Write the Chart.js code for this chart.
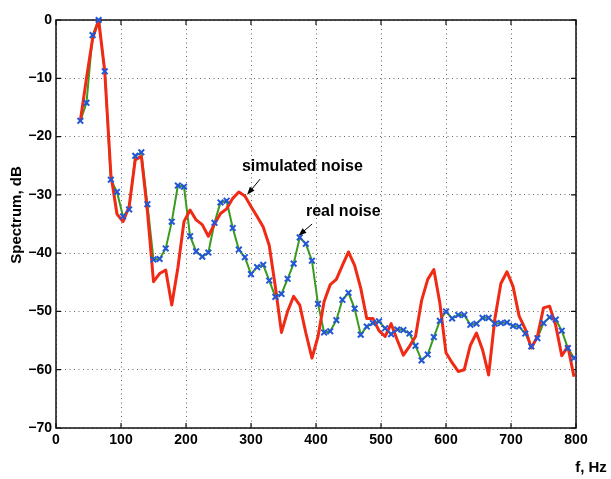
<!DOCTYPE html>
<html>
<head>
<meta charset="utf-8">
<title>Spectrum</title>
<script src="https://cdn.jsdelivr.net/npm/chart.js@4.4.0/dist/chart.umd.min.js"></script>
<style>
  html, body { margin: 0; padding: 0; background: #fff; }
  #wrap { width: 611px; height: 479px; }
</style>
</head>
<body>
<div id="wrap"><canvas id="spectrum" width="611" height="479"></canvas></div>
<script>
// frequency bins, Hz
const freq = [
  37.5, 46.9, 56.3, 65.6, 75.0, 84.4, 93.8, 103.1, 112.5, 121.9,
  131.3, 140.6, 150.0, 159.4, 168.8, 178.1, 187.5, 196.9, 206.3, 215.6,
  225.0, 234.4, 243.8, 253.1, 262.5, 271.9, 281.3, 290.6, 300.0, 309.4,
  318.8, 328.1, 337.5, 346.9, 356.3, 365.6, 375.0, 384.4, 393.8, 403.1,
  412.5, 421.9, 431.3, 440.6, 450.0, 459.4, 468.8, 478.1, 487.5, 496.9,
  506.3, 515.6, 525.0, 534.4, 543.8, 553.1, 562.5, 571.9, 581.3, 590.6,
  600.0, 609.4, 618.8, 628.1, 637.5, 646.9, 656.3, 665.6, 675.0, 684.4,
  693.8, 703.1, 712.5, 721.9, 731.3, 740.6, 750.0, 759.4, 768.8, 778.1,
  787.5, 796.9
];

// measured spectrum, dB
const realNoise = [
  -17.3, -14.2, -2.6, 0, -8.8, -27.4, -29.5, -33.7, -32.5, -23.3,
  -22.7, -31.6, -41.1, -41.0, -39.2, -34.6, -28.4, -28.6, -37.1, -39.7,
  -40.6, -39.9, -34.8, -31.3, -31.0, -35.7, -39.4, -40.7, -43.6, -42.4,
  -42.0, -44.7, -47.5, -47.0, -44.4, -41.8, -37.3, -38.4, -41.3, -48.7,
  -53.6, -53.4, -51.5, -48.0, -46.8, -49.5, -54.0, -52.6, -52.0, -51.7,
  -52.9, -53.9, -53.1, -53.2, -53.8, -55.9, -58.4, -57.4, -54.4, -51.6,
  -50.0, -51.2, -50.6, -50.6, -52.3, -52.1, -51.1, -51.1, -52.1, -52.0,
  -51.9, -52.5, -52.6, -53.8, -56.0, -54.6, -52.0, -51.0, -51.4, -53.3,
  -56.3, -58.0
];

// simulated spectrum, dB
const simNoise = [
  -17.3, -10.0, -3.2, 0, -8.8, -26.5, -33.3, -34.6, -32.0, -24.0,
  -23.4, -32.8, -44.9, -43.5, -42.9, -48.9, -42.5, -34.6, -32.6, -34.3,
  -35.1, -37.1, -35.0, -33.2, -32.4, -30.6, -29.5, -30.2, -32.0, -33.7,
  -35.5, -38.7, -45.8, -53.6, -50.0, -47.4, -48.9, -53.7, -58.0, -54.3,
  -48.3, -45.4, -44.5, -42.1, -39.8, -42.1, -46.0, -51.2, -51.2, -53.3,
  -54.3, -52.1, -54.9, -57.5, -56.0, -54.3, -48.1, -44.5, -42.8, -48.6,
  -57.1, -58.8, -60.3, -60.0, -55.8, -53.7, -56.6, -60.9, -51.4, -45.2,
  -43.2, -45.7, -50.8, -53.0, -56.3, -54.3, -49.4, -49.1, -52.4, -57.6,
  -56.0, -61.2
];

const xTicks = [0, 100, 200, 300, 400, 500, 600, 700, 800];
const yTicks = [0, -10, -20, -30, -40, -50, -60, -70];

// text labels with arrows, in data units
const notes = [
  { text: 'simulated noise', at: [379, -25.2], from: [314, -27.3], to: [294, -30.0] },
  { text: 'real noise', at: [442, -32.9], from: [394, -35.0], to: [373, -37.0] }
];

const FONT = "'Liberation Sans', Arial, Helvetica, sans-serif";

function pts(vals) {
  return freq.map((f, i) => ({ x: f, y: vals[i] }));
}

function fmt(v) {
  return v < 0 ? '\u2212' + Math.abs(v) : String(v);
}

// box round the plot and little inward ticks, like matlab
const frame = {
  id: 'frame',
  beforeDatasetsDraw(chart) {
    const { ctx, chartArea: a, scales: { x, y } } = chart;
    ctx.save();
    ctx.strokeStyle = '#111';
    ctx.lineWidth = 1.5;
    ctx.strokeRect(a.left, a.top, a.right - a.left, a.bottom - a.top);
    ctx.lineWidth = 1.2;
    ctx.beginPath();
    xTicks.forEach(v => {
      const px = x.getPixelForValue(v);
      ctx.moveTo(px, a.bottom); ctx.lineTo(px, a.bottom - 5);
      ctx.moveTo(px, a.top); ctx.lineTo(px, a.top + 5);
    });
    yTicks.forEach(v => {
      const py = y.getPixelForValue(v);
      ctx.moveTo(a.left, py); ctx.lineTo(a.left + 5, py);
      ctx.moveTo(a.right, py); ctx.lineTo(a.right - 5, py);
    });
    ctx.stroke();
    ctx.restore();
  },
  afterDraw(chart) {
    const { ctx, chartArea: a, scales: { x, y } } = chart;
    ctx.save();
    ctx.fillStyle = '#000';
    ctx.strokeStyle = '#000';

    // annotations
    ctx.font = 'bold 16px ' + FONT;
    ctx.textAlign = 'center';
    ctx.textBaseline = 'middle';
    notes.forEach(n => {
      ctx.fillText(n.text, x.getPixelForValue(n.at[0]), y.getPixelForValue(n.at[1]));
      const x1 = x.getPixelForValue(n.from[0]), y1 = y.getPixelForValue(n.from[1]);
      const x2 = x.getPixelForValue(n.to[0]), y2 = y.getPixelForValue(n.to[1]);
      const ang = Math.atan2(y2 - y1, x2 - x1);
      ctx.lineWidth = 1;
      ctx.beginPath();
      ctx.moveTo(x1, y1);
      ctx.lineTo(x2 - 6 * Math.cos(ang), y2 - 6 * Math.sin(ang));
      ctx.stroke();
      ctx.beginPath();
      ctx.moveTo(x2, y2);
      ctx.lineTo(x2 - 8 * Math.cos(ang) + 3 * Math.sin(ang), y2 - 8 * Math.sin(ang) - 3 * Math.cos(ang));
      ctx.lineTo(x2 - 8 * Math.cos(ang) - 3 * Math.sin(ang), y2 - 8 * Math.sin(ang) + 3 * Math.cos(ang));
      ctx.closePath();
      ctx.fill();
    });

    // axis titles
    ctx.font = 'bold 15px ' + FONT;
    ctx.fillText('f, Hz', a.right + 15, a.bottom + 40);
    ctx.translate(a.left - 39, 215);
    ctx.rotate(-Math.PI / 2);
    ctx.fillText('Spectrum, dB', 0, 0);
    ctx.restore();
  }
};

new Chart(document.getElementById('spectrum'), {
  type: 'line',
  data: {
    datasets: [
      {
        label: 'real noise points',
        data: pts(realNoise),
        showLine: false,
        pointStyle: 'crossRot',
        pointRadius: 4,
        pointBorderWidth: 2,
        pointBorderColor: '#2356d8',
        pointBackgroundColor: '#2356d8',
        clip: false,
        order: 0
      },
      {
        label: 'simulated noise',
        data: pts(simNoise),
        borderColor: '#f02a14',
        borderWidth: 3,
        borderJoinStyle: 'round',
        pointRadius: 0,
        tension: 0,
        order: 1
      },
      {
        label: 'real noise',
        data: pts(realNoise),
        borderColor: '#3a9a1e',
        borderWidth: 2,
        pointRadius: 0,
        tension: 0,
        order: 2
      }
    ]
  },
  options: {
    responsive: false,
    animation: false,
    devicePixelRatio: 1,
    layout: { padding: { left: 0, right: 35, top: 20, bottom: 0 } },
    plugins: { legend: { display: false }, tooltip: { enabled: false } },
    scales: {
      x: {
        type: 'linear',
        min: 0,
        max: 800,
        afterBuildTicks: s => { s.ticks = xTicks.map(v => ({ value: v })); },
        afterFit: s => { s.height = 51; },
        grid: { color: '#666', lineWidth: 1, drawTicks: false },
        border: { display: false, dash: [1, 3.5] },
        ticks: {
          color: '#000',
          padding: 4,
          autoSkip: false,
          maxRotation: 0,
          font: { family: FONT, size: 14, weight: 'bold' },
          callback: v => fmt(v)
        }
      },
      y: {
        type: 'linear',
        min: -70,
        max: 0,
        afterBuildTicks: s => { s.ticks = yTicks.map(v => ({ value: v })); },
        afterFit: s => { s.width = 56; },
        grid: { color: '#666', lineWidth: 1, drawTicks: false },
        border: { display: false, dash: [1, 3.5] },
        ticks: {
          color: '#000',
          padding: 4,
          autoSkip: false,
          font: { family: FONT, size: 14, weight: 'bold' },
          callback: v => fmt(v)
        }
      }
    }
  },
  plugins: [frame]
});
</script>
</body>
</html>
